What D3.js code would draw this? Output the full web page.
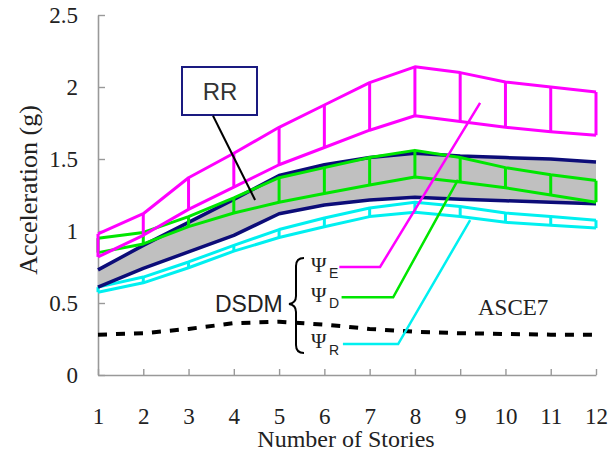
<!DOCTYPE html>
<html>
<head>
<meta charset="utf-8">
<script src="https://cdn.jsdelivr.net/npm/d3@7"></script>
<style>
  body { margin: 0; background: #fff; }
  svg { display: block; }
</style>
</head>
<body>
<div id="chart"></div>
<script>
// ---- data ----
const stories = [1, 2, 3, 4, 5, 6, 7, 8, 9, 10, 11, 12];

const psiEUpper = [0.98, 1.12, 1.37, 1.54, 1.72, 1.875, 2.03, 2.14, 2.10, 2.035, 2.00, 1.965];
const psiELower = [0.82, 0.97, 1.15, 1.305, 1.46, 1.58, 1.70, 1.80, 1.76, 1.72, 1.69, 1.665];

const psiDUpper = [0.95, 0.99, 1.10, 1.23, 1.37, 1.44, 1.51, 1.56, 1.51, 1.44, 1.39, 1.35];
const psiDLower = [0.85, 0.91, 1.03, 1.125, 1.20, 1.26, 1.32, 1.375, 1.34, 1.30, 1.25, 1.20];

const rrUpper = [0.73, 0.90, 1.06, 1.22, 1.385, 1.46, 1.51, 1.54, 1.52, 1.51, 1.50, 1.48];
const rrLower = [0.61, 0.74, 0.855, 0.97, 1.12, 1.18, 1.215, 1.235, 1.22, 1.21, 1.20, 1.19];

const psiRUpper = [0.61, 0.68, 0.785, 0.90, 1.01, 1.09, 1.16, 1.20, 1.17, 1.125, 1.10, 1.075];
const psiRLower = [0.575, 0.64, 0.745, 0.86, 0.955, 1.03, 1.10, 1.13, 1.10, 1.06, 1.04, 1.02];

const asce7 = [0.28, 0.29, 0.32, 0.36, 0.37, 0.35, 0.32, 0.30, 0.29, 0.285, 0.28, 0.28];

const yTicks = [0, 0.5, 1, 1.5, 2, 2.5];
const yTickLabels = ["0", "0.5", "1", "1.5", "2", "2.5"];

// ---- layout ----
const W = 610, H = 454;
const x = d3.scaleLinear().domain([1, 12]).range([98, 596]);
const y = d3.scaleLinear().domain([0, 2.5]).range([375, 15]);

const svg = d3.select("#chart").append("svg")
  .attr("width", W).attr("height", H);

const serif = "'Liberation Serif', 'Times New Roman', serif";
const sans = "'Liberation Sans', Arial, sans-serif";

// ---- axes ----
const xAxis = d3.axisBottom(x).tickValues(stories).tickFormat(d3.format("d"))
  .tickSizeInner(-6).tickSizeOuter(0).tickPadding(33);
const gx = svg.append("g").attr("transform", `translate(0,${y(0)})`).call(xAxis);

const yAxis = d3.axisLeft(y).tickValues(yTicks).tickFormat((d, i) => yTickLabels[i])
  .tickSizeInner(-7).tickSizeOuter(0).tickPadding(20);
const gy = svg.append("g").attr("transform", `translate(${x(1)},0)`).call(yAxis);

[gx, gy].forEach(g => {
  g.select(".domain").attr("stroke", "#999").attr("stroke-width", 1.6);
  g.selectAll(".tick line").attr("stroke", "#999").attr("stroke-width", 1.4);
  g.selectAll(".tick text").attr("fill", "#222")
    .style("font-family", serif).style("font-size", "23px");
});

svg.append("text")
  .attr("x", 346).attr("y", 447)
  .attr("text-anchor", "middle")
  .style("font-family", serif).style("font-size", "24px").attr("fill", "#222")
  .text("Number of Stories");

svg.append("text")
  .attr("transform", "translate(37,190) rotate(-90)")
  .attr("text-anchor", "middle")
  .style("font-family", serif).style("font-size", "26px").attr("fill", "#222")
  .text("Acceleration (g)");

// ---- marks ----
const line = d3.line().x((d, i) => x(stories[i])).y(d => y(d));
const area = d3.area()
  .x((d, i) => x(stories[i]))
  .y0(d => y(d[0]))
  .y1(d => y(d[1]));

// RR grey band
svg.append("path")
  .datum(rrLower.map((v, i) => [v, rrUpper[i]]))
  .attr("d", area)
  .attr("fill", "#c0c0c0");

// ASCE7 dashed
svg.append("path")
  .datum(asce7)
  .attr("d", line)
  .attr("fill", "none")
  .attr("stroke", "#000")
  .attr("stroke-width", 4)
  .attr("stroke-dasharray", "9,9");

function ladder(upper, lower, color, width) {
  const g = svg.append("g").attr("stroke", color).attr("stroke-width", width).attr("fill", "none");
  g.selectAll("line.rung")
    .data(stories)
    .join("line")
    .attr("class", "rung")
    .attr("x1", d => x(d)).attr("x2", d => x(d))
    .attr("y1", (d, i) => y(upper[i]))
    .attr("y2", (d, i) => y(lower[i]));
  [upper, lower].forEach(s => {
    g.append("path").datum(s).attr("d", line).attr("stroke-linejoin", "round");
  });
}

ladder(psiRUpper, psiRLower, "#00f0f0", 3);

[rrUpper, rrLower].forEach(s => {
  svg.append("path").datum(s).attr("d", line)
    .attr("fill", "none").attr("stroke", "#0c0c78")
    .attr("stroke-width", 3.5).attr("stroke-linejoin", "round");
});

ladder(psiDUpper, psiDLower, "#00e600", 3);
ladder(psiEUpper, psiELower, "#ff00ff", 3);

// ---- annotations ----
// RR box + leader
svg.append("rect")
  .attr("x", 182).attr("y", 67).attr("width", 75).attr("height", 48)
  .attr("fill", "#fff").attr("stroke", "#1a1a80").attr("stroke-width", 2);
svg.append("text")
  .attr("x", 220).attr("y", 100).attr("text-anchor", "middle")
  .style("font-family", sans).style("font-size", "24px").attr("fill", "#333")
  .text("RR");
svg.append("line")
  .attr("x1", x(3.54)).attr("y1", y(1.80))
  .attr("x2", x(4.47)).attr("y2", y(1.215))
  .attr("stroke", "#000").attr("stroke-width", 2);

// leaders to DSDM labels
const leaders = [
  { color: "#ff00ff", pts: [[9.44, 1.89], [7.23, 0.75], [6.33, 0.75]] },
  { color: "#00e600", pts: [[8.95, 1.355], [7.52, 0.54], [6.38, 0.54]] },
  { color: "#00f0f0", pts: [[9.22, 1.076], [7.63, 0.215], [6.41, 0.215]] }
];
const pl = d3.line().x(d => x(d[0])).y(d => y(d[1]));
leaders.forEach(l => {
  svg.append("path").datum(l.pts).attr("d", pl)
    .attr("fill", "none").attr("stroke", l.color).attr("stroke-width", 2.5);
});

// Psi labels
const psi = [
  { sub: "E", base: 272, subBase: 278 },
  { sub: "D", base: 302, subBase: 308 },
  { sub: "R", base: 348, subBase: 355 }
];
psi.forEach(p => {
  svg.append("text").attr("x", 311).attr("y", p.base)
    .style("font-family", serif).style("font-size", "21px").attr("fill", "#222")
    .text("\u03A8");
  svg.append("text").attr("x", 329).attr("y", p.subBase)
    .style("font-family", sans).style("font-size", "14px").attr("fill", "#222")
    .text(p.sub);
});

// brace
svg.append("path")
  .attr("d", "M304,258 Q296,258 296,266 L296,296 Q296,303 289,304 Q296,305 296,312 L296,345 Q296,353 304,353")
  .attr("fill", "none").attr("stroke", "#000").attr("stroke-width", 2);

svg.append("text").attr("x", 215).attr("y", 312)
  .style("font-family", sans).style("font-size", "23px").attr("fill", "#222")
  .text("DSDM");

svg.append("text").attr("x", 478).attr("y", 315)
  .style("font-family", serif).style("font-size", "23px").attr("fill", "#222")
  .text("ASCE7");
</script>
</body>
</html>
